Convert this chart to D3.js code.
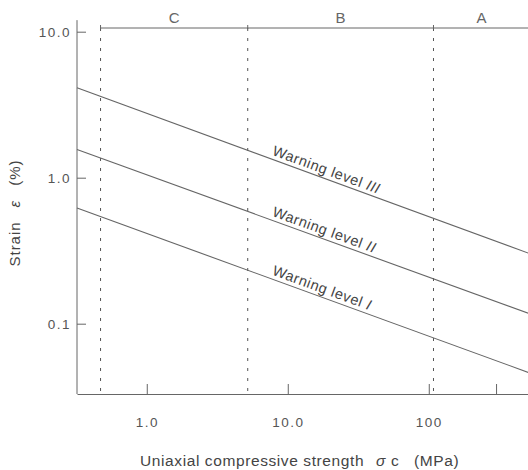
<!DOCTYPE html>
<html>
<head>
<meta charset="utf-8">
<script src="https://cdn.jsdelivr.net/npm/d3@7"></script>
<style>
  body { margin: 0; background: #fff; }
  svg { font-family: "Liberation Sans", Arial, sans-serif; }
  .tick text { font-size: 13.5px; fill: #555; letter-spacing: 1.5px; }
  .axis path, .axis line { stroke: #666; }
</style>
</head>
<body>
<script>
// data
var strengthDomain = [0.32, 520];          // MPa
var strainDomain = [0.033, 12];            // %
var xTickValues = [1, 10, 100, 300];
var xTickLabels = ["1.0", "10.0", "100", ""];
var yTickValues = [0.1, 1, 10];
var yTickLabels = ["0.1", "1.0", "10.0"];
var zoneBounds = [0.47, 5.2, 108, 520];
var zoneNames = ["C", "B", "A"];
var levelNames = ["I", "II", "III"];
var levelStrength = [0.32, 520];
var levelStrainI = [0.62, 0.046];
var levelStrainII = [1.56, 0.117];
var levelStrainIII = [4.13, 0.302];
var labelStrength = 7.5;

var width = 528, height = 470;
var left = 77, axisY = 394, decadeX = 141, decadeY = 146;

var svg = d3.select("body").append("svg")
    .attr("width", width)
    .attr("height", height)

var x = d3.scaleLog()
    .domain(strengthDomain)
    .range([left, left + decadeX * Math.log10(strengthDomain[1] / strengthDomain[0])])
var y = d3.scaleLog()
    .domain(strainDomain)
    .range([axisY, axisY - decadeY * Math.log10(strainDomain[1] / strainDomain[0])])

var ink = "#666";
var topY = 28;

// zone boundaries (dotted)
svg.append("g").selectAll("line")
    .data(zoneBounds.slice(0, 3))
    .join("line")
    .attr("x1", d => x(d)).attr("x2", d => x(d))
    .attr("y1", topY).attr("y2", axisY)
    .attr("stroke", "#555")
    .attr("stroke-width", 1)
    .attr("stroke-dasharray", "3,7")

// dimension line at top
svg.append("line")
    .attr("x1", x(zoneBounds[0])).attr("x2", width)
    .attr("y1", topY).attr("y2", topY)
    .attr("stroke", ink)
svg.append("g").selectAll("line")
    .data(zoneBounds.slice(0, 3))
    .join("line")
    .attr("x1", d => x(d)).attr("x2", d => x(d))
    .attr("y1", topY - 3).attr("y2", topY + 1)
    .attr("stroke", ink)

svg.append("g").selectAll("text")
    .data(zoneNames)
    .join("text")
    .attr("x", (d, i) => (x(zoneBounds[i]) + x(zoneBounds[i + 1])) / 2)
    .attr("y", 23)
    .attr("text-anchor", "middle")
    .attr("font-size", 15)
    .attr("fill", "#666")
    .text(d => d)

// warning level lines
var levels = [levelStrainI, levelStrainII, levelStrainIII];
var line = d3.line()
    .x(d => x(d[0]))
    .y(d => y(d[1]))

levels.forEach((strain, i) => {
    var pts = levelStrength.map((s, j) => [s, strain[j]]);
    svg.append("path")
        .datum(pts)
        .attr("fill", "none")
        .attr("stroke", ink)
        .attr("stroke-width", 1.1)
        .attr("d", line)

    // label along line
    var x0 = x(pts[0][0]), y0 = y(pts[0][1]), x1 = x(pts[1][0]), y1 = y(pts[1][1]);
    var ang = Math.atan2(y1 - y0, x1 - x0) * 180 / Math.PI;
    var lx = x(labelStrength);
    var ly = y0 + (lx - x0) * (y1 - y0) / (x1 - x0);
    var t = svg.append("text")
        .attr("transform", "translate(" + lx + "," + ly + ") rotate(" + ang + ") translate(0,-4)")
        .attr("font-size", 14.5)
        .attr("letter-spacing", 0.6)
        .attr("fill", "#444")
    t.append("tspan").text("Warning level ")
    t.append("tspan").attr("font-style", "italic").text(levelNames[i])
});

// axes
var xAxis = d3.axisBottom(x)
    .tickValues(xTickValues)
    .tickFormat((d, i) => xTickLabels[i])
    .tickSizeInner(-10)
    .tickSizeOuter(0)
    .tickPadding(23)
svg.append("g")
    .attr("class", "axis")
    .attr("transform", "translate(0," + axisY + ")")
    .call(xAxis)

var yAxis = d3.axisLeft(y)
    .tickValues(yTickValues)
    .tickFormat((d, i) => yTickLabels[i])
    .tickSizeInner(-9)
    .tickSizeOuter(0)
    .tickPadding(6)
svg.append("g")
    .attr("class", "axis")
    .attr("transform", "translate(" + left + ",0)")
    .call(yAxis)
    .select(".domain")
    .attr("d", "M0," + (axisY - decadeY * Math.log10(strainDomain[1] / strainDomain[0])) + "V" + axisY)

svg.selectAll(".axis .domain").attr("stroke", ink)

// axis titles
var xt = svg.append("text")
    .attr("x", 140)
    .attr("y", 466)
    .attr("font-size", 15.5)
    .attr("letter-spacing", 0.6)
    .attr("fill", "#444")
xt.append("tspan").text("Uniaxial compressive strength")
xt.append("tspan").attr("x", 376).attr("font-style", "italic").text("σ")
xt.append("tspan").attr("x", 391).text("c")
xt.append("tspan").attr("x", 414).text("(MPa)")

var yt = svg.append("text")
    .attr("transform", "translate(20,213) rotate(-90)")
    .attr("text-anchor", "middle")
    .attr("font-size", 15)
    .attr("letter-spacing", 1)
    .attr("fill", "#444")
yt.append("tspan").text("Strain")
yt.append("tspan").attr("dx", 14).attr("font-style", "italic").text("ε")
yt.append("tspan").attr("dx", 14).text("(%)")
</script>
</body>
</html>
